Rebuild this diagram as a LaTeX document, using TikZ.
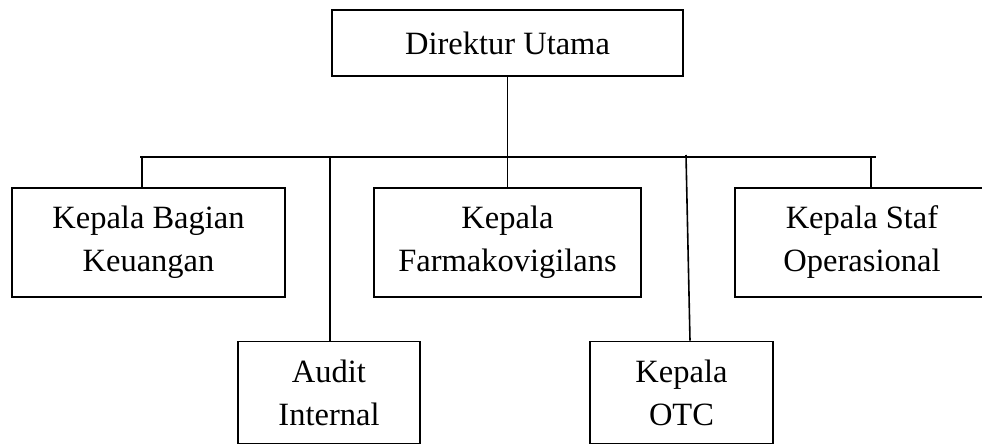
\documentclass[tikz,border=0pt]{standalone}
\usepackage{fontspec}
\setmainfont{Liberation Serif}
\tikzset{
  box/.style={draw, line width=1.6pt, rectangle, align=center, inner sep=0pt,
    font=\fontsize{32.5}{43}\selectfont},
  conn/.style={line width=1.6pt}
}
\begin{document}
\begin{tikzpicture}[x=1pt,y=1pt]
\clip (0,0) rectangle (982,-444);
\fill[white] (0,0) rectangle (982,-444);
\node[box, minimum width=351pt, minimum height=66pt] (dir) at (507.5,-43) {Direktur Utama};
\node[box, minimum width=273pt, minimum height=109pt] (keu) at (148.5,-242.5) {Kepala Bagian\\Keuangan};
\node[box, minimum width=267pt, minimum height=109pt] (farm) at (507.5,-242.5) {Kepala\\Farmakovigilans};
\node[box, minimum width=254pt, minimum height=109pt] (staf) at (862,-242.5) {Kepala Staf\\Operasional};
\node[box, minimum width=182pt, minimum height=102pt] (audit) at (329,-392.5) {Audit\\Internal};
\node[box, minimum width=183pt, minimum height=102pt] (otc) at (681.5,-392.5) {Kepala\\OTC};
\coordinate (busL) at (140,-157);
\coordinate (busR) at (876,-157);
\coordinate (b1) at (142,-157);
\coordinate (b2) at (330,-157);
\coordinate (b3) at (686,-155);
\coordinate (b4) at (871,-157);
\draw[conn] (busL) -- (busR);
\draw[conn] (dir.south) -- (farm.north);
\draw[conn] (b1) -- (b1 |- keu.north);
\draw[conn] (b2) -- (b2 |- audit.north);
\draw[conn] (b3) -- ([xshift=8.5pt]otc.north);
\draw[conn] (b4) -- (b4 |- staf.north);
\end{tikzpicture}
\end{document}
